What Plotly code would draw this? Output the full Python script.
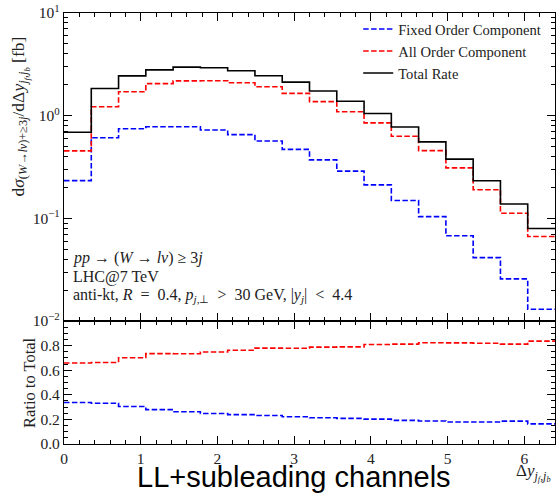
import numpy as np
import plotly.graph_objects as go

# Bin edges in Delta y between forward and backward jets
bin_edges = list(np.linspace(0.0, 6.4, 19))

# Differential cross sections per bin [fb]
fixed_order = [0.233, 0.61, 0.745, 0.78, 0.78, 0.726, 0.654, 0.567, 0.47, 0.371,
               0.288, 0.212, 0.149, 0.104, 0.0676, 0.0414, 0.0257, 0.013]
all_order = [0.454, 1.22, 1.71, 2.05, 2.18, 2.19, 2.09, 1.91, 1.65, 1.37,
             1.09, 0.85, 0.63, 0.457, 0.31, 0.19, 0.112, 0.0665]
total_rate = [0.69, 1.84, 2.44, 2.79, 2.97, 2.93, 2.74, 2.45, 2.12, 1.74,
              1.38, 1.05, 0.776, 0.555, 0.377, 0.232, 0.138, 0.0795]

log_tick_vals = [10, 1, 0.1, 0.01]
log_tick_text = ["10<sup>1</sup>", "10<sup>0</sup>", "10<sup>−1</sup>", "10<sup>−2</sup>"]
ratio_tick_vals = [0.0, 0.2, 0.4, 0.6, 0.8]
ratio_tick_text = ["0.0", "0.2", "0.4", "0.6", "0.8"]
x_tick_vals = [0, 1, 2, 3, 4, 5, 6]

SERIF = "Liberation Serif"
TXT = "#222"
W, H = 556, 495
ML, MR, MT, MB = 63.5, 1, 13, 51
PH = H - MT - MB
split = 123 / PH


def step(vals):
    return list(vals) + [vals[-1]]


fixed_ratio = [f / t for f, t in zip(fixed_order, total_rate)]
all_ratio = [a / t for a, t in zip(all_order, total_rate)]

fig = go.Figure()
dash = "5.5px,2.4px"
series = [
    ("Fixed Order Component", fixed_order, fixed_ratio, "#0000ff", dash),
    ("All Order Component", all_order, all_ratio, "#ff0000", dash),
    ("Total Rate", total_rate, None, "#000000", "solid"),
]
for name, vals, ratio, color, ds in series:
    fig.add_trace(go.Scatter(
        x=bin_edges, y=step(vals), mode="lines", line_shape="hv", name=name,
        line=dict(color=color, width=1.6, dash=ds), xaxis="x", yaxis="y"))
    if ratio is not None:
        fig.add_trace(go.Scatter(
            x=bin_edges, y=step(ratio), mode="lines", line_shape="hv", showlegend=False,
            line=dict(color=color, width=1.6, dash=ds), xaxis="x2", yaxis="y2"))

minor_log = [m * 10.0 ** e for e in (-2, -1, 0) for m in range(2, 10)]


def axis(**kw):
    d = dict(showline=True, linecolor="black", linewidth=1.3, mirror="allticks",
             ticks="inside", ticklen=8, tickwidth=1.3, tickcolor="black",
             showgrid=False, zeroline=False,
             tickfont=dict(family=SERIF, size=15.5, color=TXT))
    d.update(kw)
    return d


def minor(**kw):
    d = dict(ticks="inside", ticklen=4, tickwidth=1.1, tickcolor="black")
    d.update(kw)
    return d


fig.update_layout(
    width=W, height=H,
    margin=dict(l=ML, r=MR, t=MT, b=MB),
    plot_bgcolor="white", paper_bgcolor="white",
    xaxis=axis(domain=[0, 1], anchor="y", range=[0, 6.4], showticklabels=False,
               dtick=1, tick0=0, minor=minor(dtick=0.2, tick0=0)),
    yaxis=axis(domain=[split, 1], anchor="x", type="log", range=[-2, 1],
               tickmode="array", tickvals=log_tick_vals, ticktext=log_tick_text,
               minor=minor(tickmode="array", tickvals=minor_log)),
    xaxis2=axis(domain=[0, 1], anchor="y2", range=[0, 6.4],
                dtick=1, tick0=0, minor=minor(dtick=0.2, tick0=0)),
    yaxis2=axis(domain=[0, split], anchor="x2", range=[0, 1],
                tickmode="array", tickvals=ratio_tick_vals, ticktext=ratio_tick_text,
                minor=minor(dtick=0.05, tick0=0)),
    legend=dict(x=(358 - ML) / (W - ML - MR), y=(H - MB - 13) / PH, xanchor="left",
                yanchor="top", bgcolor="rgba(0,0,0,0)",
                font=dict(family=SERIF, size=14.6, color=TXT), tracegroupgap=0),
    showlegend=True,
)


def px_x(px):
    return (px - ML) / (W - ML - MR)


def px_y(py):
    return (H - MB - py) / PH


EN = "\u2002"
info_lines = [
    "<i>pp</i>→(<i>W</i>→<i>lν</i>)≥3<i>j</i>".replace("→", " → ").replace("≥", " ≥ "),
    "LHC@7 TeV",
    f"anti-kt, <i>R</i>{EN}={EN}0.4, <i>p</i><sub><i>j</i>,⊥</sub>{EN}>{EN}30 GeV, "
    f"|<i>y<sub>j</sub></i>|{EN}<{EN}4.4",
]
info_rows = [258, 276.5, 295]

annotations = [
    dict(text="d<i>σ</i><sub>(<i>W</i>→<i>lν</i>)+≥3<i>j</i></sub>/dΔ<i>y</i>"
              "<sub><i>j<sub>f</sub></i>,<i>j<sub>b</sub></i></sub> [fb]",
         x=px_x(19), y=px_y(117), textangle=-90, xanchor="center", yanchor="middle",
         font=dict(family=SERIF, size=17.5, color=TXT)),
    dict(text="Ratio to Total", x=px_x(29), y=px_y(382.5), textangle=-90,
         xanchor="center", yanchor="middle",
         font=dict(family=SERIF, size=16.5, color=TXT)),
    dict(text="Δ<i>y</i><sub><i>j<sub>f</sub></i>,<i>j<sub>b</sub></i></sub>",
         x=px_x(514), y=px_y(472), xanchor="left", yanchor="middle",
         font=dict(family=SERIF, size=17, color=TXT)),
    dict(text="LL+subleading channels", x=px_x(293.5), y=px_y(477),
         xanchor="center", yanchor="middle",
         font=dict(family="Liberation Sans", size=29, color="black")),
]
for line, row in zip(info_lines, info_rows):
    annotations.append(dict(text=line, x=px_x(71), y=px_y(row), xanchor="left",
                            yanchor="middle", align="left",
                            font=dict(family=SERIF, size=16, color=TXT)))
for a in annotations:
    a.update(xref="paper", yref="paper", showarrow=False)
fig.update_layout(annotations=annotations)

fig.write_html("out.html")
